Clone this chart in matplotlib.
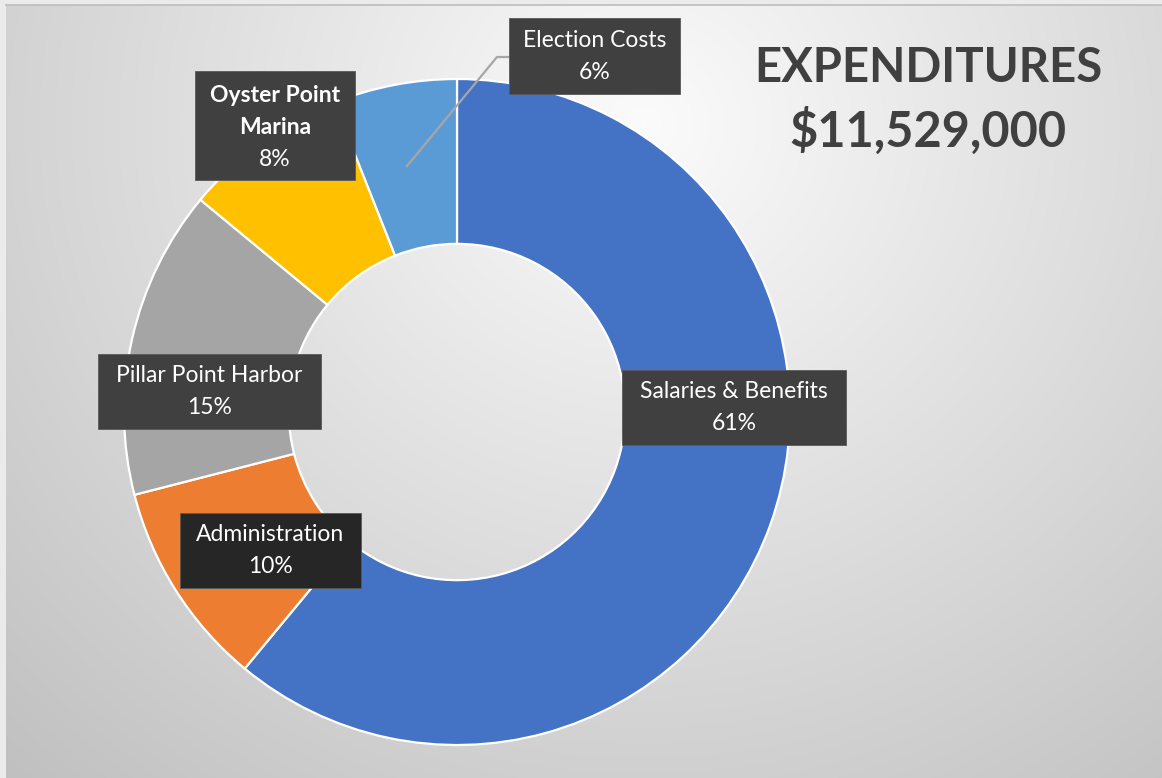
"""Expenditures donut chart."""

import matplotlib
matplotlib.use("Agg")
import matplotlib.pyplot as plt
import numpy as np

W, H = 1162, 778

categories = ["Salaries & Benefits", "Administration", "Pillar Point Harbor",
              "Oyster Point Marina", "Election Costs"]
shares     = [61, 10, 15, 8, 6]
colors     = ["#4472C4", "#ED7D31", "#A5A5A5", "#FFC000", "#5B9BD5"]
title      = "EXPENDITURES"
total      = "$11,529,000"

FONT = "Lato"
LABEL_SIZE = 16.5

fig = plt.figure(figsize=(W / 100, H / 100), dpi=100, facecolor="#ebebeb")
ax = fig.add_axes([0, 0, 1, 1])
ax.set_xlim(0, W); ax.set_ylim(0, H)
ax.set_aspect("equal"); ax.axis("off")

# ── radial grey background ──────────────────────────────────────────────
yy, xx = np.mgrid[0:H, 0:W]
d = np.hypot(xx - 640, (yy - 120) * 1.05) / 850.0
shade = np.clip(0.985 - 0.21 * d, 0.72, 1.0)
bg = np.dstack([shade] * 3)
ax.imshow(bg, extent=(6, W, 0, H - 5), origin="upper", zorder=0, aspect="auto")
ax.plot([6, W], [H - 5, H - 5], color="#bdbdbd", lw=1.2, zorder=1)

# ── donut ───────────────────────────────────────────────────────────────
cx, cy, R = 457, H - 412, 333
wedges, _ = ax.pie(shares, colors=colors, startangle=90, counterclock=False,
                   center=(cx, cy), radius=R, frame=True,
                   wedgeprops=dict(width=R * 0.495, edgecolor="white", linewidth=1.6))
for w in wedges:
    w.set_zorder(2)
ax.set_xlim(0, W); ax.set_ylim(0, H); ax.axis("off")

# ── data labels (boxes in pixel coords: x0, y0, x1, y1 from top) ─────────
boxes = {
    "Salaries & Benefits": (622, 370, 846, 445, "#404040"),
    "Administration":      (180, 513, 361, 588, "#262626"),
    "Pillar Point Harbor": (98, 354, 321, 429, "#404040"),
    "Oyster Point Marina": (195, 71, 355, 180, "#404040"),
    "Election Costs":      (509, 18, 680, 94, "#404040"),
}

# leader line for the small slice
ax.plot([407, 497, 509], [H - 166, H - 57, H - 57], color="#a6a6a6", lw=1.6, zorder=3)

for name, pct in zip(categories, shares):
    x0, y0, x1, y1, fc = boxes[name]
    ax.add_patch(plt.Rectangle((x0, H - y1), x1 - x0, y1 - y0, facecolor=fc,
                               edgecolor="#595959", lw=0.6, zorder=4))
    xc = (x0 + x1) / 2
    if name == "Oyster Point Marina":
        ax.text(xc, H - 95, "Oyster Point", ha="center", va="center", color="white",
                fontsize=LABEL_SIZE, fontweight="bold", family=FONT, zorder=5)
        ax.text(xc, H - 127, "Marina", ha="center", va="center", color="white",
                fontsize=LABEL_SIZE, fontweight="bold", family=FONT, zorder=5)
        ax.text(xc, H - 159, f"{pct}%", ha="center", va="center", color="white",
                fontsize=LABEL_SIZE, family=FONT, zorder=5)
    else:
        ym = (y0 + y1) / 2
        ax.text(xc, H - (ym - 16), name, ha="center", va="center", color="white",
                fontsize=LABEL_SIZE, family=FONT, zorder=5)
        ax.text(xc, H - (ym + 16), f"{pct}%", ha="center", va="center", color="white",
                fontsize=LABEL_SIZE, family=FONT, zorder=5)

# ── title ───────────────────────────────────────────────────────────────
ax.text(928, H - 68, title, ha="center", va="center", color="#404040",
        fontsize=34, fontweight="bold", family=FONT, zorder=5)
ax.text(928, H - 131, total, ha="center", va="center", color="#404040",
        fontsize=35, fontweight="bold", family=FONT, zorder=5)

fig.savefig("out.png", dpi=100)
plt.close(fig)
